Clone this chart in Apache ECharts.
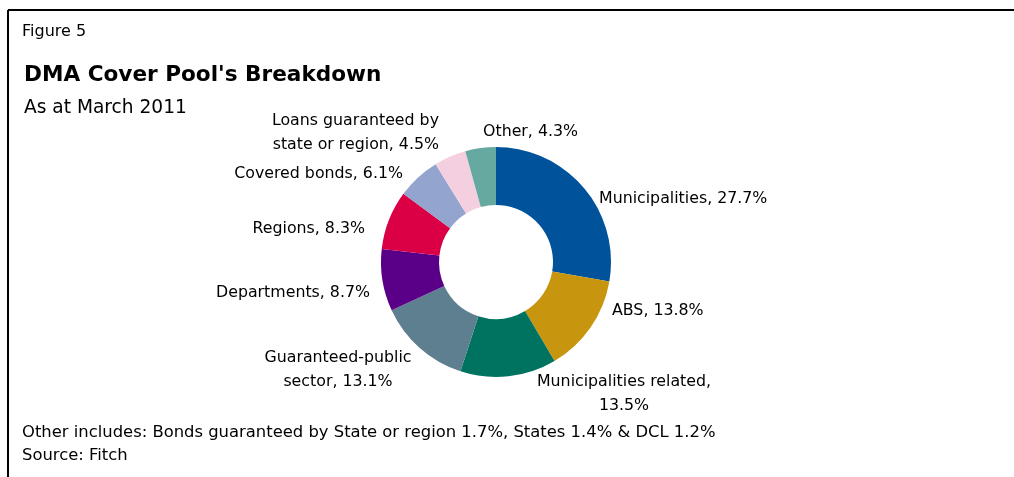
<!DOCTYPE html>
<html>
<head>
<meta charset="utf-8">
<script src="https://cdn.jsdelivr.net/npm/echarts@6/dist/echarts.min.js"></script>
<style>
  html, body { margin: 0; padding: 0; background: #fff; }
  #chart { width: 1014px; height: 477px; }
</style>
</head>
<body>
<div id="chart"></div>
<script>
// Cover pool composition, % of total (clockwise from 12 o'clock)
const categories = [
  'Municipalities',
  'ABS',
  'Municipalities related',
  'Guaranteed-public sector',
  'Departments',
  'Regions',
  'Covered bonds',
  'Loans guaranteed by state or region',
  'Other'
];
const shares = [27.7, 13.8, 13.5, 13.1, 8.7, 8.3, 6.1, 4.5, 4.3];
const sliceColors = [
  '#00529B', '#C7960E', '#007360', '#5E7F8F', '#5A0088',
  '#DB0045', '#93A4CE', '#F4CFE0', '#66A9A0'
];

const figureLabel = 'Figure 5';
const titleText = "DMA Cover Pool's Breakdown";
const subtitleText = 'As at March 2011';
const noteText = 'Other includes: Bonds guaranteed by State or region 1.7%, States 1.4% & DCL 1.2%';
const sourceText = 'Source: Fitch';

// Words after which a label wraps onto a second line
const wrapAfterWord = { 2: 2, 3: 1, 7: 3 };

// Label anchors: [x, y, align]
const labelAnchors = [
  [599, 199, 'left'],
  [612, 311, 'left'],
  [624, 394, 'center'],
  [338, 370, 'center'],
  [370, 293, 'right'],
  [365, 229, 'right'],
  [403, 174, 'right'],
  [439, 133, 'right'],
  [483, 132, 'left']
];

const FONT = '"DejaVu Sans", Verdana, sans-serif';

function labelText(name, value, idx) {
  const words = (name + ', ' + value + '%').split(' ');
  const n = wrapAfterWord[idx];
  if (!n) return words.join(' ');
  return words.slice(0, n).join(' ') + '\n' + words.slice(n).join(' ');
}

function headText(str, x, y, font) {
  return {
    type: 'text', x: x, y: y,
    style: { text: str, font: font, fill: '#000', textVerticalAlign: 'middle', verticalAlign: 'middle' }
  };
}

const chart = echarts.init(document.getElementById('chart'), null, { renderer: 'canvas' });

chart.setOption({
  backgroundColor: '#ffffff',
  animation: false,
  graphic: [
    { type: 'line', shape: { x1: 8, y1: 10, x2: 1014, y2: 10 }, style: { stroke: '#000', lineWidth: 2 } },
    { type: 'line', shape: { x1: 8, y1: 10, x2: 8, y2: 477 }, style: { stroke: '#000', lineWidth: 2 } },
    headText(figureLabel, 22, 32, '16px ' + FONT),
    headText(titleText, 24, 75, 'bold 21.6px ' + FONT),
    headText(subtitleText, 24, 108, '18.6px ' + FONT),
    headText(noteText, 22, 433, '16.4px ' + FONT),
    headText(sourceText, 22, 456, '16.4px ' + FONT)
  ],
  series: [{
    type: 'pie',
    center: [496, 262],
    radius: [57, 115],
    startAngle: 90,
    clockwise: true,
    avoidLabelOverlap: false,
    data: categories.map((name, i) => ({
      name: name,
      value: shares[i],
      itemStyle: { color: sliceColors[i] }
    })),
    label: {
      show: true,
      position: 'outside',
      color: '#000',
      fontFamily: FONT,
      fontSize: 15.8,
      lineHeight: 24,
      formatter: p => labelText(p.name, p.value, p.dataIndex)
    },
    labelLine: { show: false },
    labelLayout: p => {
      const a = labelAnchors[p.dataIndex];
      return { x: a[0], y: a[1], align: a[2], verticalAlign: 'middle' };
    },
    emphasis: { disabled: true }
  }]
});
</script>
</body>
</html>
